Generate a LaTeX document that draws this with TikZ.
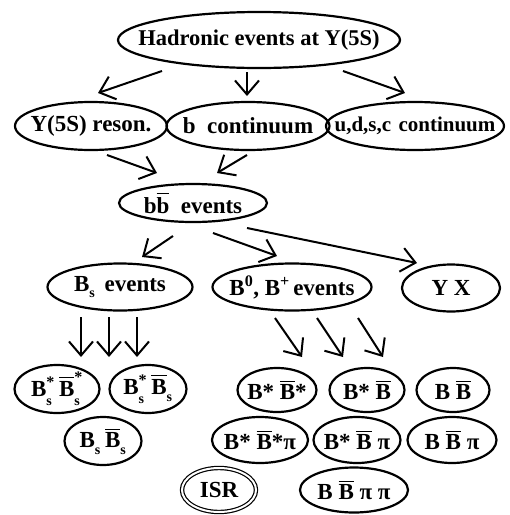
\documentclass[tikz,border=0pt]{standalone}
\usepackage{amsmath}
\usepackage{fontspec}
\setmainfont{Liberation Serif}
\usetikzlibrary{shapes.geometric,arrows.meta}
\newcommand\ovB{\overline{\text{B}}}
\newcommand\tB{\text{B}}
\newcommand\tst{\text{*}}
\newcommand\tsub{\raisebox{-3pt}{\fontsize{14}{14}\selectfont\bfseries s}}
\begin{document}
\begin{tikzpicture}[x=1pt,y=-1pt,
  ev/.style={draw, ellipse, line width=2.2pt, inner sep=0pt,
    font=\fontsize{23}{27}\selectfont\bfseries},
  arr/.style={-{Straight Barb[length=14pt,width=24pt]}, line width=2pt}]
\useasboundingbox (0,0) rectangle (510,515);
% row 1
\node[ev, minimum width=282pt, minimum height=56pt, font=\fontsize{22.5}{27}\selectfont\bfseries] (top) at (259,40) {\makebox[0pt]{Hadronic events at Y(5S)}};
% row 2
\node[ev, minimum width=152pt, minimum height=48pt] (res) at (91,126) {\makebox[0pt]{Y(5S) reson.}};
\node[ev, minimum width=163pt, minimum height=48pt] (bcont) at (248,126) {\makebox[0pt]{b\hspace{0.5em}continuum}};
\node[ev, minimum width=178pt, minimum height=48pt, font=\fontsize{21}{27}\selectfont\bfseries] (udsc) at (415,126) {\makebox[0pt]{u,d,s,c\hspace{0.35em}continuum}};
% row 3
\node[ev, minimum width=148pt, minimum height=38pt] (bb) at (193,203) {\makebox[0pt]{b$\overline{\text{b}}$\hspace{0.5em}events}};
% row 4
\node[ev, minimum width=145pt, minimum height=47pt] (bs) at (120,287) {\makebox[0pt]{$\tB_{\tsub}$\hspace{0.4em}events}};
\node[ev, minimum width=159pt, minimum height=47pt] (bpm) at (292,287) {\makebox[0pt]{$\tB^{\text{0}}$, $\tB^{\text{+}}$\hspace{0.15em}events}};
\node[ev, minimum width=98pt, minimum height=47pt] (yx) at (451,288) {\makebox[0pt]{Y X}};
% Bs states
\node[ev, minimum width=85pt, minimum height=48pt] (bss) at (57,389) {\makebox[0pt]{$\tB^{\tst}_{\tsub}\,\ovB^{\tst}_{\tsub}$}};
\node[ev, minimum width=77pt, minimum height=48pt] (bsb) at (148,389) {\makebox[0pt]{$\tB^{\tst}_{\tsub}\,\ovB_{\tsub}$}};
\node[ev, minimum width=77pt, minimum height=48pt] (bsbs) at (103,441) {\makebox[0pt]{$\tB_{\tsub}\,\ovB_{\tsub}$}};
% B states
\node[ev, minimum width=79pt, minimum height=44pt] (bb1) at (277,390) {\makebox[0pt]{B* $\ovB$*}};
\node[ev, minimum width=75pt, minimum height=44pt] (bb2) at (367,390) {\makebox[0pt]{B* $\ovB$}};
\node[ev, minimum width=73pt, minimum height=44pt] (bb3) at (453,390) {\makebox[0pt]{B $\ovB$}};
\node[ev, minimum width=96pt, minimum height=46pt] (bp1) at (260,440) {\makebox[0pt]{B* $\ovB$*π}};
\node[ev, minimum width=87pt, minimum height=46pt] (bp2) at (357,440) {\makebox[0pt]{B* $\ovB$ π}};
\node[ev, minimum width=89pt, minimum height=46pt] (bp3) at (452,440) {\makebox[0pt]{B $\ovB$ π}};
\node[ev, minimum width=108pt, minimum height=45pt] (bpp) at (354,490) {\makebox[0pt]{B $\ovB$ π π}};
\node[ev, double, double distance=2pt, line width=1.2pt, minimum width=74pt, minimum height=44pt] (isr) at (219,490) {\makebox[0pt]{ISR}};
% arrows
\draw[arr] ([shift={(-97,31)}]top.center) -- ([shift={(7,-33)}]res.center);
\draw[arr] ([shift={(-12,32)}]top.center) -- ([shift={(-1,-30)}]bcont.center);
\draw[arr] ([shift={(84,31)}]top.center) -- ([shift={(-10,-33)}]udsc.center);
\draw[arr] ([shift={(16,29)}]res.center) -- ([shift={(-36,-30)}]bb.center);
\draw[arr] ([shift={(-1,29)}]bcont.center) -- ([shift={(24,-30)}]bb.center);
\draw[arr] ([shift={(-20,33)}]bb.center) -- ([shift={(22,-30)}]bs.center);
\draw[arr] ([shift={(20,30)}]bb.center) -- ([shift={(-15,-31)}]bpm.center);
\draw[arr] ([shift={(54,25)}]bb.center) -- ([shift={(-34,-25)}]yx.center);
\draw[arr] ([shift={(-39,30)}]bs.center) -- ([shift={(24,-32)}]bss.center);
\draw[arr] ([shift={(-11,30)}]bs.center) -- ([shift={(6,-84)}]bsbs.center);
\draw[arr] ([shift={(17,30)}]bs.center) -- ([shift={(-11,-32)}]bsb.center);
\draw[arr] ([shift={(-17,31)}]bpm.center) -- ([shift={(25,-33)}]bb1.center);
\draw[arr] ([shift={(25,31)}]bpm.center) -- ([shift={(-24,-33)}]bb2.center);
\draw[arr] ([shift={(66,31)}]bpm.center) -- ([shift={(-70,-33)}]bb3.center);
\end{tikzpicture}
\end{document}
